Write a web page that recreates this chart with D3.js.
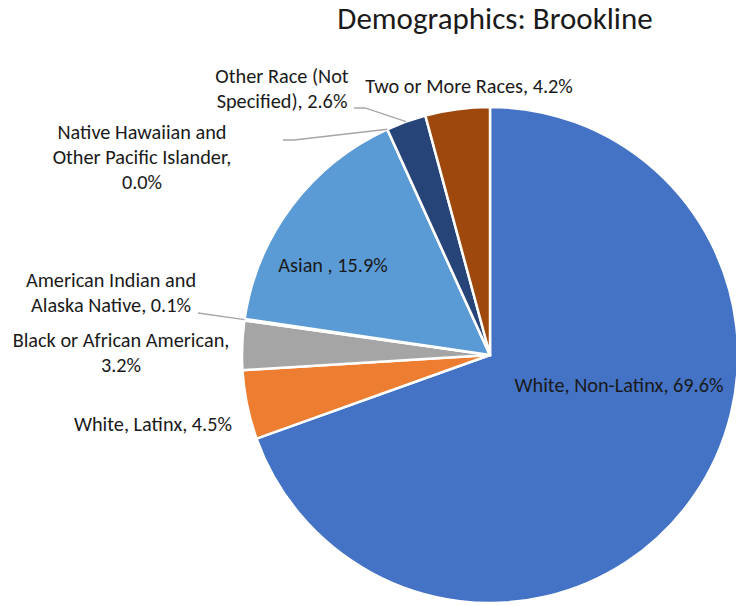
<!DOCTYPE html>
<html>
<head>
<meta charset="utf-8">
<script src="https://cdn.jsdelivr.net/npm/d3@7"></script>
<style>
  html, body { margin: 0; padding: 0; background: #ffffff; }
  svg { display: block; }
  text { font-family: Carlito, Calibri, Lato, "Noto Sans", sans-serif; fill: #1a1a1a; }
</style>
</head>
<body>
<svg id="chart" width="736" height="606"></svg>
<script>
// Population shares for Brookline, listed clockwise from 12 o'clock
const categories = [
  "White, Non-Latinx",
  "White, Latinx",
  "Black or African American",
  "American Indian and Alaska Native",
  "Asian ",
  "Native Hawaiian and Other Pacific Islander",
  "Other Race (Not Specified)",
  "Two or More Races"
];
const shares = [69.6, 4.5, 3.2, 0.1, 15.9, 0.0, 2.6, 4.2];
const sliceColors = ["#4472C4", "#ED7D31", "#A5A5A5", "#FFC000", "#5B9BD5", "#70AD47", "#264478", "#9E480E"];

// Label text lines per slice ({c} = category, {v} = formatted share)
const labelLines = [
  ["{c}, {v}"],
  ["{c}, {v}"],
  ["{c},", "{v}"],
  ["American Indian and", "Alaska Native, {v}"],
  ["{c}, {v}"],
  ["Native Hawaiian and", "Other Pacific Islander,", "{v}"],
  ["Other Race (Not", "Specified), {v}"],
  ["{c}, {v}"]
];

const svg = d3.select("#chart");
const cx = 490, cy = 355, radius = 248;

// Label placement relative to the pie centre: first baseline and anchor
const labelLayout = [
  { dx: 129, dy: 37, anchor: "middle" },
  { dx: -258, dy: 76, anchor: "end" },
  { dx: -369, dy: -8, anchor: "middle" },
  { dx: -379, dy: -68, anchor: "middle" },
  { dx: -157, dy: -83, anchor: "middle" },
  { dx: -348, dy: -216, anchor: "middle" },
  { dx: -208, dy: -272, anchor: "middle" },
  { dx: -21, dy: -262, anchor: "middle" }
];
// Leader lines: start point on the label side and horizontal elbow length
const leaders = {
  3: { sx: -292, sy: -42, elbow: 0 },
  5: { sx: -207, sy: -215, elbow: 11 },
  6: { sx: -136, sy: -247, elbow: 11 }
};

const lineHeight = 25;

svg.append("text")
  .attr("x", 495)
  .attr("y", 29)
  .attr("text-anchor", "middle")
  .style("font-size", "31px")
  .text("Demographics: Brookline");

const pie = d3.pie().sort(null).value(d => d).startAngle(0).endAngle(2 * Math.PI);
const arcs = pie(shares);
const arc = d3.arc().innerRadius(0).outerRadius(radius);

const g = svg.append("g").attr("transform", `translate(${cx},${cy})`);

g.selectAll("path.slice")
  .data(arcs)
  .join("path")
  .attr("class", "slice")
  .attr("d", arc)
  .attr("fill", (d, i) => sliceColors[i])
  .attr("stroke", "#ffffff")
  .attr("stroke-width", 2.5)
  .attr("stroke-linejoin", "round");

// Leader lines from labels to the slice edge at mid-angle
Object.entries(leaders).forEach(([k, L]) => {
  const a = arcs[+k];
  const mid = (a.startAngle + a.endAngle) / 2;
  const ex = radius * Math.sin(mid);
  const ey = -radius * Math.cos(mid);
  const pts = [[L.sx, L.sy]];
  if (L.elbow) pts.push([L.sx + L.elbow, L.sy]);
  pts.push([ex, ey]);
  g.append("path")
    .attr("d", d3.line()(pts))
    .attr("fill", "none")
    .attr("stroke", "#a6a6a6")
    .attr("stroke-width", 1.3);
});

const fmt = v => v.toFixed(1) + "%";

arcs.forEach((a, i) => {
  const lay = labelLayout[i];
  const t = g.append("text")
    .attr("text-anchor", lay.anchor)
    .style("font-size", "20.3px");
  labelLines[i].forEach((ln, j) => {
    t.append("tspan")
      .attr("x", lay.dx)
      .attr("y", lay.dy + j * lineHeight)
      .text(ln.replace("{c}", categories[i]).replace("{v}", fmt(shares[i])));
  });
});
</script>
</body>
</html>
